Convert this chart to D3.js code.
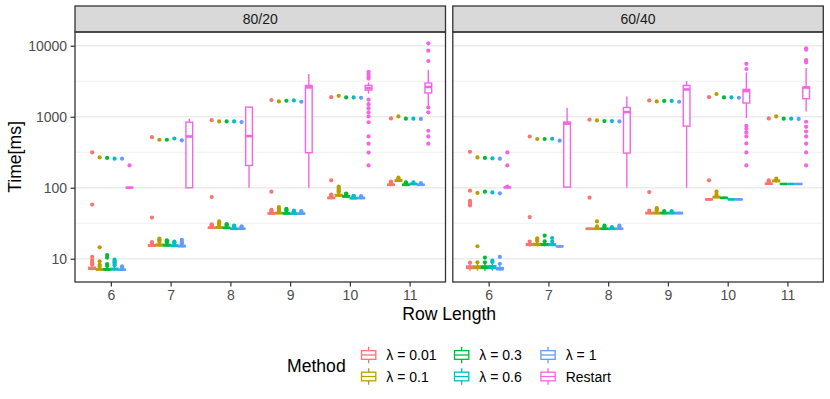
<!DOCTYPE html>
<html>
<head>
<meta charset="utf-8">
<script src="https://cdn.jsdelivr.net/npm/d3@7"></script>
<style>
body { margin: 0; background: #fff; }
text { font-family: "Liberation Sans", Arial, sans-serif; }
</style>
</head>
<body>
<div id="chart"></div>
<script>
const facets = ["80/20", "60/40"];
const rowLengths = ["6", "7", "8", "9", "10", "11"];
const methods = ["λ = 0.01", "λ = 0.1", "λ = 0.3", "λ = 0.6", "λ = 1", "Restart"];
const colors = ["#F8766D", "#B79F00", "#00BA38", "#00BFC4", "#619CFF", "#F564E3"];
const yTicks = [10, 100, 1000, 10000];

// per method, per row length: [whisker low, q1, median, q3, whisker high]
const box8020 = [
    [[6.9, 7.1, 7.3, 7.6, 8.0], [14.6, 15.0, 15.4, 15.8, 16.4], [26.5, 27.0, 27.4, 27.8, 28.6], [42, 42.8, 43.5, 44.2, 45.5], [69, 70.5, 72, 73.5, 76], [105, 108, 110, 112, 116]],
    [[6.85, 6.95, 7.05, 7.2, 7.5], [14.8, 15.2, 15.6, 16.0, 16.6], [26.6, 27.1, 27.5, 28.0, 29], [42.5, 43.2, 44, 44.8, 46], [74, 76.5, 78.5, 80.5, 84], [120, 123, 126, 129, 133]],
    [[6.85, 6.95, 7.05, 7.25, 7.6], [14.8, 15.2, 15.5, 15.9, 16.5], [26.3, 26.8, 27.2, 27.6, 28.4], [42, 42.8, 43.5, 44.3, 45.8], [72.5, 74, 75.5, 77, 79], [106, 108, 110, 112, 115]],
    [[6.9, 7.0, 7.1, 7.35, 7.8], [14.6, 14.9, 15.2, 15.6, 16.2], [25.8, 26.1, 26.4, 26.8, 27.6], [42, 42.6, 43.2, 43.9, 45], [69, 70.2, 71.2, 72.3, 74], [109, 111, 113, 115, 117]],
    [[6.85, 6.9, 7.0, 7.1, 7.3], [14.5, 14.8, 15.1, 15.4, 15.9], [25.8, 26.1, 26.4, 26.8, 27.5], [42, 42.6, 43.2, 43.9, 45], [69, 70.5, 71.8, 73, 75], [106, 108.5, 110, 111.5, 114]],
    [[100, 100, 100.5, 101, 102], [100, 100, 527, 840, 935], [100, 206, 533, 1365, 1365], [100, 311, 2590, 2762, 3985], [2110, 2373, 2530, 2770, 3040], [1428, 2160, 2625, 2985, 4590]]
];
const out8020 = [
    [[8.3, 8.6, 9.0, 9.6, 10.6, 58, 314], [16.7, 17.1, 38, 516], [29.2, 29.8, 30.5, 74, 895], [46.5, 47.5, 49, 88, 1714], [77, 78.5, 80, 127, 1889], [117.5, 119, 122, 947]],
    [[7.8, 8.2, 9.2, 14.5, 267], [17.2, 17.9, 18.6, 19.2, 474], [30, 31, 32, 33.5, 859], [47.5, 49, 51, 53.5, 1641], [87, 90, 94, 99, 104, 1972], [136, 139, 1010]],
    [[7.9, 8.4, 10.4, 11.3, 263], [17, 17.6, 18.2, 474], [29.2, 30, 30.8, 859], [47.3, 49, 50.5, 1680], [80, 81.5, 83, 1870], [116, 117.5, 119, 940]],
    [[8.1, 8.5, 8.9, 9.3, 9.7, 257], [16.6, 17, 17.4, 494], [28, 28.6, 29.2, 859], [45.8, 46.6, 47.5, 1700], [75, 76, 77, 1870], [119, 940]],
    [[7.5, 7.8, 257], [16.3, 16.8, 17.3, 18.5, 465], [28, 28.6, 842], [46, 47, 1626], [76.5, 1850], [116, 932]],
    [[206], [], [], [], [4300, 4000, 3700, 3450, 1740, 1505, 1320, 1153, 1010, 836, 528, 417, 313, 206], [6100, 8510, 10800, 1352, 1153, 635, 528, 417]]
];

const box6040 = [
    [[6.8, 7.3, 7.6, 7.9, 8.5], [14.9, 15.4, 15.9, 16.3, 17], [25.6, 26, 26.4, 26.8, 27.4], [42.5, 43.2, 44, 44.8, 46], [66.5, 67.5, 68.5, 69.5, 71], [110, 112, 114, 116, 120]],
    [[6.8, 7.3, 7.6, 7.9, 8.5], [14.9, 15.4, 15.9, 16.4, 17.2], [25.6, 26, 26.4, 26.8, 27.6], [42.5, 43.2, 44, 44.8, 46.5], [71, 72.5, 74, 75.5, 78], [119, 122, 125, 128, 132]],
    [[6.8, 7.3, 7.6, 7.9, 8.5], [15, 15.4, 15.9, 16.3, 17], [25.6, 26, 26.4, 26.8, 27.4], [42.5, 43.2, 44, 44.8, 46], [70, 71, 72, 73, 75], [111, 112.5, 113, 113.5, 115]],
    [[6.8, 7.3, 7.6, 8.0, 8.6], [15, 15.4, 15.8, 16.2, 17], [25.6, 26, 26.4, 26.8, 27.4], [42.5, 43.2, 44, 44.8, 46], [67, 68, 68.5, 69, 70], [111, 112.5, 113, 113.5, 115]],
    [[6.8, 7.0, 7.2, 7.5, 8.1], [14.5, 14.8, 14.9, 15.1, 15.4], [25.6, 26, 26.4, 26.8, 27.4], [42.5, 43.2, 44, 44.8, 46], [67, 68, 68.5, 69, 70], [111, 112.5, 113, 113.5, 115]],
    [[100, 100.5, 101, 102, 103], [100, 102, 800, 842, 1340], [100, 308, 1164, 1352, 1930], [100, 738, 2425, 2762, 3180], [960, 1560, 2300, 2425, 4210], [1190, 1795, 2580, 2612, 4850]]
];
const out6040 = [
    [[8.8, 56.4, 60.8, 65.6, 91, 321], [17.5, 38.6, 527], [72.4, 908], [47.5, 87, 1698], [127, 1889], [123, 127, 947]],
    [[8.9, 15.0, 84.5, 267], [17.8, 18.5, 19.3, 486], [28.5, 33.5, 888], [48, 50, 51.8, 1641], [80, 88, 2090], [134, 1010]],
    [[8.9, 10.4, 88, 263], [17.6, 21.1, 486], [28.2, 29.4, 870], [47, 1670], [1870], [940]],
    [[9.0, 9.4, 86, 260], [17.5, 19.6, 490], [28, 870], [47, 1670], [1870], [940]],
    [[8.5, 10.6, 83.5, 257], [460], [28.2, 29.2, 859], [1626], [1850], [932]],
    [[104, 206, 314], [], [], [], [4700, 5570, 747, 677, 601, 528, 421, 314, 206], [5820, 6160, 6300, 8790, 9200, 850, 720, 620, 528, 417, 314, 206]]
];

const boxes = [box8020, box6040];
const outliers = [out8020, out6040];

const w = 830;
const h = 399;
const margin = {left: 75, top: 32};
const panelW = 370.5;
const gap = 7.3;
const stripTop = 6;
const panelBottom = 282;

const svg = d3.select("#chart")
    .append("svg")
    .attr("width", w)
    .attr("height", h);

// y scale, log with 5% expansion like ggplot
const allVals = [box8020, out8020, box6040, out6040].flat(3);
const ext = d3.extent(allVals);
const lr = Math.log10(ext[1]) - Math.log10(ext[0]);
const y = d3.scaleLog()
    .domain([ext[0] / Math.pow(10, lr * 0.05), ext[1] * Math.pow(10, lr * 0.05)])
    .range([panelBottom, margin.top]);

const minorTicks = [10, 100, 1000, 10000].map(d => d / Math.sqrt(10))
    .concat([100000 / Math.sqrt(10)])
    .filter(d => d > y.domain()[0] && d < y.domain()[1]);

facets.forEach(function(f, fi) {
    const x0 = margin.left + fi * (panelW + gap);
    const x = d3.scalePoint()
        .domain(rowLengths)
        .range([x0, x0 + panelW])
        .padding(0.6);
    const step = x.step();
    const g = svg.append("g");

    // strip
    g.append("rect")
        .attr("x", x0).attr("y", stripTop)
        .attr("width", panelW).attr("height", margin.top - stripTop)
        .attr("fill", "#D9D9D9")
        .attr("stroke", "#333333")
        .attr("stroke-width", 1.3);
    g.append("text")
        .attr("x", x0 + panelW / 2)
        .attr("y", (stripTop + margin.top) / 2 + 5)
        .attr("text-anchor", "middle")
        .attr("font-size", 14)
        .attr("fill", "#1A1A1A")
        .text(f);

    // grid
    g.selectAll(".minor").data(minorTicks).enter().append("line")
        .attr("x1", x0).attr("x2", x0 + panelW)
        .attr("y1", d => y(d)).attr("y2", d => y(d))
        .attr("stroke", "#EBEBEB").attr("stroke-width", 0.8);
    g.selectAll(".major").data(yTicks).enter().append("line")
        .attr("x1", x0).attr("x2", x0 + panelW)
        .attr("y1", d => y(d)).attr("y2", d => y(d))
        .attr("stroke", "#EBEBEB").attr("stroke-width", 1.6);

    // boxplots
    methods.forEach(function(m, mi) {
        const dx = (mi - 2.5) * 0.125 * step;
        const bw = 0.125 * 0.9 * step;
        rowLengths.forEach(function(r, ri) {
            const s = boxes[fi][mi][ri];
            const cx = x(r) + dx;
            const col = colors[mi];
            const bg = g.append("g");

            bg.selectAll("circle")
                .data(outliers[fi][mi][ri])
                .enter()
                .append("circle")
                .attr("cx", cx)
                .attr("cy", d => y(d))
                .attr("r", 2.1)
                .attr("fill", col);

            bg.append("line")
                .attr("x1", cx).attr("x2", cx)
                .attr("y1", y(s[0])).attr("y2", y(s[1]))
                .attr("stroke", col).attr("stroke-width", 1.4);
            bg.append("line")
                .attr("x1", cx).attr("x2", cx)
                .attr("y1", y(s[3])).attr("y2", y(s[4]))
                .attr("stroke", col).attr("stroke-width", 1.4);
            bg.append("rect")
                .attr("x", cx - bw / 2)
                .attr("y", y(s[3]))
                .attr("width", bw)
                .attr("height", Math.max(0, y(s[1]) - y(s[3])))
                .attr("fill", "#fff")
                .attr("stroke", col)
                .attr("stroke-width", 1.4);
            bg.append("line")
                .attr("x1", cx - bw / 2).attr("x2", cx + bw / 2)
                .attr("y1", y(s[2])).attr("y2", y(s[2]))
                .attr("stroke", col).attr("stroke-width", 2.6);
        });
    });

    // panel border
    g.append("rect")
        .attr("x", x0).attr("y", margin.top)
        .attr("width", panelW).attr("height", panelBottom - margin.top)
        .attr("fill", "none")
        .attr("stroke", "#333333")
        .attr("stroke-width", 1.3);

    // x axis
    const xa = g.append("g")
        .attr("transform", "translate(0," + panelBottom + ")")
        .call(d3.axisBottom(x).tickSize(4.4).tickPadding(3.5));
    xa.select(".domain").remove();
    xa.selectAll("line").attr("stroke", "#333333").attr("stroke-width", 1.2);
    xa.selectAll("text").attr("font-size", 14).attr("fill", "#4D4D4D")
        .attr("font-family", "Liberation Sans, Arial, sans-serif");

    if (fi === 0) {
        const ya = g.append("g")
            .attr("transform", "translate(" + x0 + ",0)")
            .call(d3.axisLeft(y).tickValues(yTicks).tickFormat(d3.format("d")).tickSize(4.4).tickPadding(3.5));
        ya.select(".domain").remove();
        ya.selectAll("line").attr("stroke", "#333333").attr("stroke-width", 1.2);
        ya.selectAll("text").attr("font-size", 14).attr("fill", "#4D4D4D")
            .attr("font-family", "Liberation Sans, Arial, sans-serif");
    }
});

// axis titles
svg.append("text")
    .attr("x", margin.left + panelW + gap / 2)
    .attr("y", 320)
    .attr("text-anchor", "middle")
    .attr("font-size", 17.6)
    .text("Row Length");
svg.append("text")
    .attr("transform", "translate(21," + (margin.top + panelBottom) / 2 + ") rotate(-90)")
    .attr("text-anchor", "middle")
    .attr("font-size", 17.6)
    .text("Time[ms]");

// legend
const legend = svg.append("g");
legend.append("text")
    .attr("x", 287)
    .attr("y", 372)
    .attr("font-size", 17.6)
    .text("Method");

const colX = [360, 453, 539.4];
const rowY = [355, 376.5];
const keyS = 17.3;
methods.forEach(function(m, i) {
    const kx = colX[Math.floor(i / 2)];
    const ky = rowY[i % 2] - keyS / 2;
    const k = legend.append("g");
    const cx = kx + keyS / 2;
    k.append("line")
        .attr("x1", cx).attr("x2", cx)
        .attr("y1", ky + 0.5).attr("y2", ky + keyS - 0.5)
        .attr("stroke", colors[i]).attr("stroke-width", 1.3);
    k.append("rect")
        .attr("x", kx + 1.5).attr("y", ky + keyS * 0.25)
        .attr("width", keyS - 3).attr("height", keyS * 0.5)
        .attr("fill", "#fff")
        .attr("stroke", colors[i]).attr("stroke-width", 1.3);
    k.append("line")
        .attr("x1", kx + 1.5).attr("x2", kx + keyS - 1.5)
        .attr("y1", ky + keyS / 2).attr("y2", ky + keyS / 2)
        .attr("stroke", colors[i]).attr("stroke-width", 1.3);
    legend.append("text")
        .attr("x", kx + keyS + 9)
        .attr("y", rowY[i % 2] + 5)
        .attr("font-size", 14)
        .text(m);
});
</script>
</body>
</html>
